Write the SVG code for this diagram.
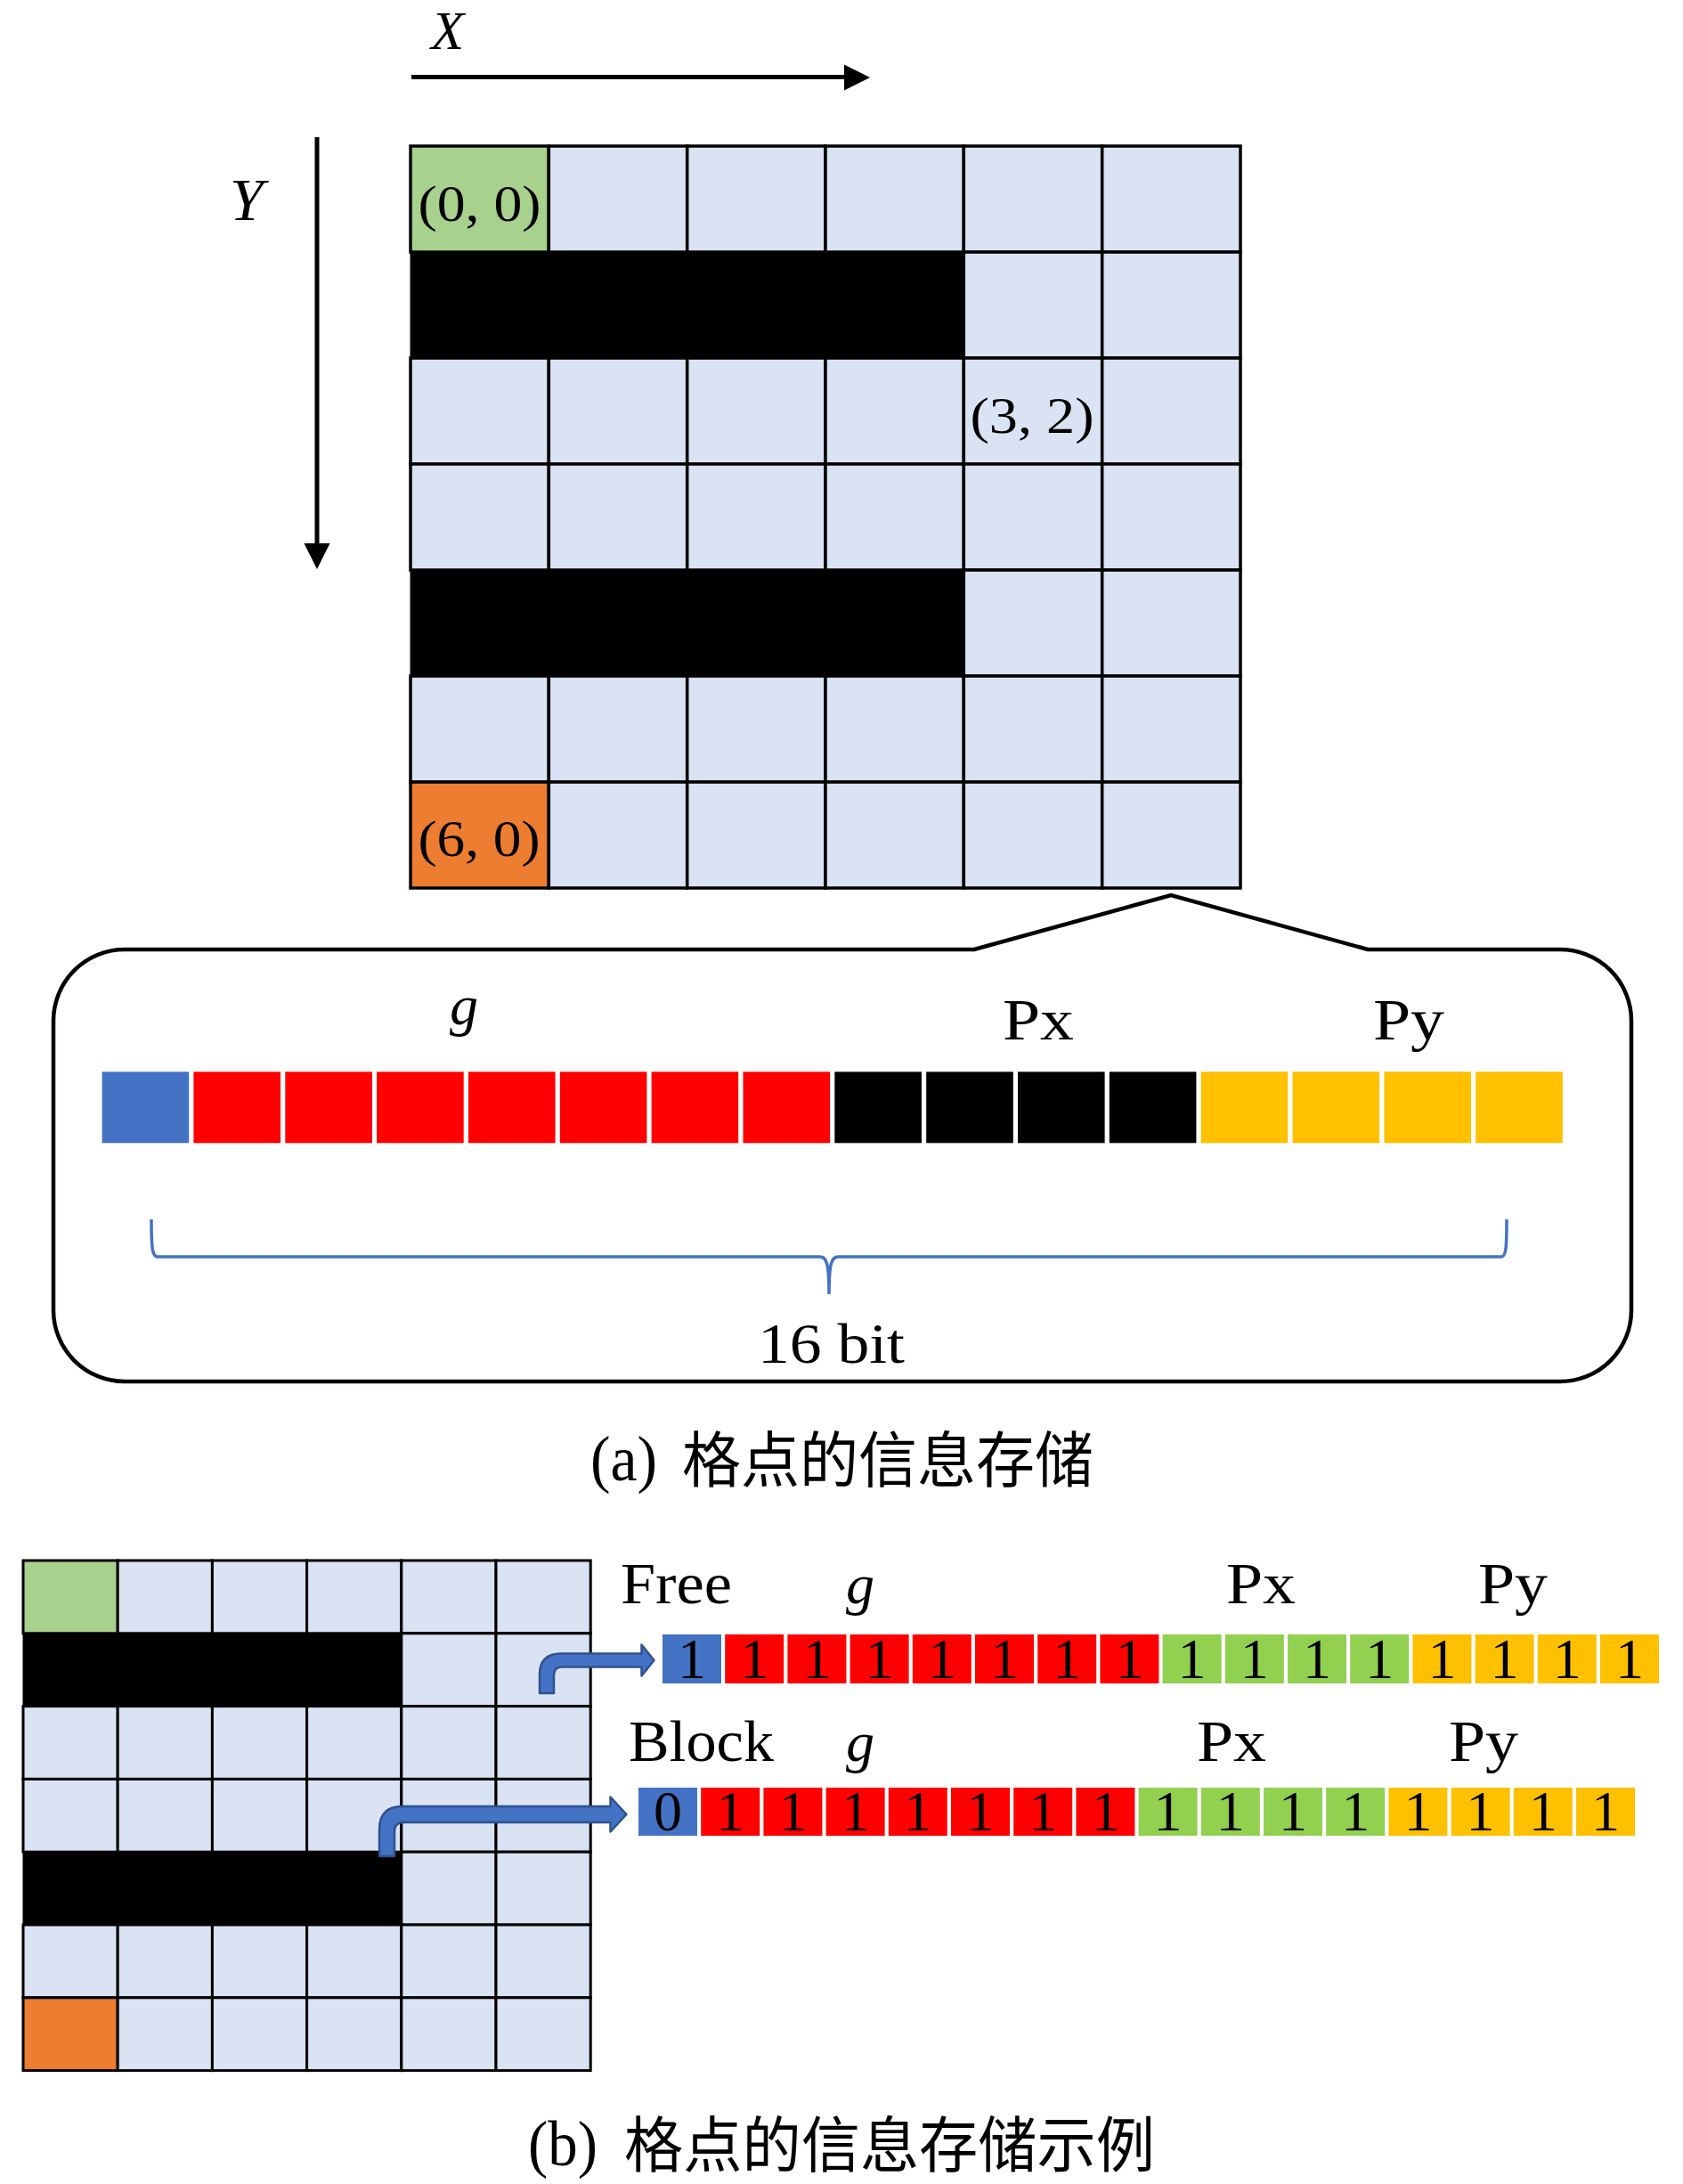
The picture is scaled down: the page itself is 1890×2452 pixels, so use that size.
<svg xmlns="http://www.w3.org/2000/svg" width="1890" height="2452" viewBox="0 0 1890 2452">
<style>
.bg{fill:#ffffff}
.c{fill:#DAE3F3;stroke:#000;stroke-width:3.5}
.cs{fill:#DAE3F3;stroke:#000;stroke-width:3}
.green{fill:#A9D18E}
.orange{fill:#ED7D31}
.blk{fill:#000;stroke:#000}
.t{font-family:"Liberation Serif","DejaVu Serif",serif;fill:#000}
.i{font-style:italic}
.cjk{font-family:"Noto Sans CJK SC","Noto Sans CJK JP",sans-serif;fill:#000}
.bB{fill:#4472C4}
.bR{fill:#FF0000}
.bK{fill:#000}
.bY{fill:#FFC000}
.bG{fill:#92D050}
.arr{fill:#4472C4;stroke:#2F528F;stroke-width:2.5;stroke-linejoin:round}
</style>
<rect class="bg" x="0" y="0" width="1890" height="2452"/>

<g id="axes">
  <line x1="462" y1="86.5" x2="950" y2="86.5" stroke="#000" stroke-width="5"/>
  <polygon points="948,72.5 977,87 948,101.5" fill="#000"/>
  <text class="t i" x="484" y="55" font-size="61">X</text>
  <line x1="356" y1="154" x2="356" y2="612" stroke="#000" stroke-width="5"/>
  <polygon points="341.5,610 370.5,610 356,639" fill="#000"/>
  <text class="t i" x="258" y="247" font-size="68">Y</text>
</g>

<g id="grid-a">
  <rect class="c green" x="461" y="164" width="155.3" height="119"/>
  <rect class="c" x="616.3" y="164" width="155.4" height="119"/>
  <rect class="c" x="771.7" y="164" width="155.3" height="119"/>
  <rect class="c" x="927" y="164" width="155.3" height="119"/>
  <rect class="c" x="1082.3" y="164" width="155.4" height="119"/>
  <rect class="c" x="1237.7" y="164" width="155.3" height="119"/>

  <rect class="blk" x="461" y="283" width="621.3" height="119"/>
  <rect class="c" x="1082.3" y="283" width="155.4" height="119"/>
  <rect class="c" x="1237.7" y="283" width="155.3" height="119"/>

  <rect class="c" x="461" y="402" width="155.3" height="119"/>
  <rect class="c" x="616.3" y="402" width="155.4" height="119"/>
  <rect class="c" x="771.7" y="402" width="155.3" height="119"/>
  <rect class="c" x="927" y="402" width="155.3" height="119"/>
  <rect class="c" x="1082.3" y="402" width="155.4" height="119"/>
  <rect class="c" x="1237.7" y="402" width="155.3" height="119"/>

  <rect class="c" x="461" y="521" width="155.3" height="119"/>
  <rect class="c" x="616.3" y="521" width="155.4" height="119"/>
  <rect class="c" x="771.7" y="521" width="155.3" height="119"/>
  <rect class="c" x="927" y="521" width="155.3" height="119"/>
  <rect class="c" x="1082.3" y="521" width="155.4" height="119"/>
  <rect class="c" x="1237.7" y="521" width="155.3" height="119"/>

  <rect class="blk" x="461" y="640" width="621.3" height="119"/>
  <rect class="c" x="1082.3" y="640" width="155.4" height="119"/>
  <rect class="c" x="1237.7" y="640" width="155.3" height="119"/>

  <rect class="c" x="461" y="759" width="155.3" height="119"/>
  <rect class="c" x="616.3" y="759" width="155.4" height="119"/>
  <rect class="c" x="771.7" y="759" width="155.3" height="119"/>
  <rect class="c" x="927" y="759" width="155.3" height="119"/>
  <rect class="c" x="1082.3" y="759" width="155.4" height="119"/>
  <rect class="c" x="1237.7" y="759" width="155.3" height="119"/>

  <rect class="c orange" x="461" y="878" width="155.3" height="119"/>
  <rect class="c" x="616.3" y="878" width="155.4" height="119"/>
  <rect class="c" x="771.7" y="878" width="155.3" height="119"/>
  <rect class="c" x="927" y="878" width="155.3" height="119"/>
  <rect class="c" x="1082.3" y="878" width="155.4" height="119"/>
  <rect class="c" x="1237.7" y="878" width="155.3" height="119"/>

  <text class="t" x="469.5" y="248" font-size="56" textLength="138" lengthAdjust="spacingAndGlyphs">(0, 0)</text>
  <text class="t" x="1089.5" y="486" font-size="56" textLength="139" lengthAdjust="spacingAndGlyphs">(3, 2)</text>
  <text class="t" x="469.5" y="961" font-size="56" textLength="137" lengthAdjust="spacingAndGlyphs">(6, 0)</text>
</g>

<g id="callout">
  <path d="M140,1066 H1094 L1315,1005 L1536,1066 H1752 A80,80 0 0 1 1832,1146 V1471 A80,80 0 0 1 1752,1551 H140 A80,80 0 0 1 60,1471 V1146 A80,80 0 0 1 140,1066 Z" fill="none" stroke="#000" stroke-width="4.5" stroke-linejoin="miter"/>
  <text class="t i" x="505" y="1150" font-size="64">g</text>
  <text class="t" x="1126" y="1167" font-size="66" textLength="80" lengthAdjust="spacingAndGlyphs">Px</text>
  <text class="t" x="1542" y="1167" font-size="66" textLength="80" lengthAdjust="spacingAndGlyphs">Py</text>
  <g id="bits-a">
    <rect class="bB" x="114.6" y="1203.3" width="97.6" height="80"/>
    <rect class="bR" x="217.4" y="1203.3" width="97.6" height="80"/>
    <rect class="bR" x="320.3" y="1203.3" width="97.6" height="80"/>
    <rect class="bR" x="423.1" y="1203.3" width="97.6" height="80"/>
    <rect class="bR" x="526" y="1203.3" width="97.6" height="80"/>
    <rect class="bR" x="628.8" y="1203.3" width="97.6" height="80"/>
    <rect class="bR" x="731.6" y="1203.3" width="97.6" height="80"/>
    <rect class="bR" x="834.5" y="1203.3" width="97.6" height="80"/>
    <rect class="bK" x="937.3" y="1203.3" width="97.6" height="80"/>
    <rect class="bK" x="1040.2" y="1203.3" width="97.6" height="80"/>
    <rect class="bK" x="1143" y="1203.3" width="97.6" height="80"/>
    <rect class="bK" x="1245.8" y="1203.3" width="97.6" height="80"/>
    <rect class="bY" x="1348.7" y="1203.3" width="97.6" height="80"/>
    <rect class="bY" x="1451.5" y="1203.3" width="97.6" height="80"/>
    <rect class="bY" x="1554.4" y="1203.3" width="97.6" height="80"/>
    <rect class="bY" x="1657.2" y="1203.3" width="97.6" height="80"/>
  </g>
  <path id="brace" d="M170,1369 C170,1402 171,1411 177,1411 H921 C928,1411 931,1418 931,1453 C931,1418 934,1411 941,1411 H1686 C1691,1411 1692,1402 1692,1369" fill="none" stroke="#4472C4" stroke-width="3.5"/>
  <text class="t" x="851" y="1530" font-size="64" textLength="165" lengthAdjust="spacingAndGlyphs">16 bit</text>
</g>

<g id="caption-a">
  <text class="t" x="663" y="1662" font-size="72" textLength="75" lengthAdjust="spacingAndGlyphs">(a)</text>
  <text class="cjk" x="766" y="1664" font-size="68" textLength="462" lengthAdjust="spacingAndGlyphs">格点的信息存储</text>
</g>

<g id="grid-b">
  <rect class="cs green" x="26" y="1752" width="106.2" height="81.8"/>
  <rect class="cs" x="132.2" y="1752" width="106.2" height="81.8"/>
  <rect class="cs" x="238.4" y="1752" width="106.2" height="81.8"/>
  <rect class="cs" x="344.6" y="1752" width="106.2" height="81.8"/>
  <rect class="cs" x="450.8" y="1752" width="106.2" height="81.8"/>
  <rect class="cs" x="557" y="1752" width="106.2" height="81.8"/>

  <rect class="blk" x="26" y="1833.8" width="424.8" height="81.8"/>
  <rect class="cs" x="450.8" y="1833.8" width="106.2" height="81.8"/>
  <rect class="cs" x="557" y="1833.8" width="106.2" height="81.8"/>

  <rect class="cs" x="26" y="1915.6" width="106.2" height="81.8"/>
  <rect class="cs" x="132.2" y="1915.6" width="106.2" height="81.8"/>
  <rect class="cs" x="238.4" y="1915.6" width="106.2" height="81.8"/>
  <rect class="cs" x="344.6" y="1915.6" width="106.2" height="81.8"/>
  <rect class="cs" x="450.8" y="1915.6" width="106.2" height="81.8"/>
  <rect class="cs" x="557" y="1915.6" width="106.2" height="81.8"/>

  <rect class="cs" x="26" y="1997.4" width="106.2" height="81.8"/>
  <rect class="cs" x="132.2" y="1997.4" width="106.2" height="81.8"/>
  <rect class="cs" x="238.4" y="1997.4" width="106.2" height="81.8"/>
  <rect class="cs" x="344.6" y="1997.4" width="106.2" height="81.8"/>
  <rect class="cs" x="450.8" y="1997.4" width="106.2" height="81.8"/>
  <rect class="cs" x="557" y="1997.4" width="106.2" height="81.8"/>

  <rect class="blk" x="26" y="2079.2" width="424.8" height="81.8"/>
  <rect class="cs" x="450.8" y="2079.2" width="106.2" height="81.8"/>
  <rect class="cs" x="557" y="2079.2" width="106.2" height="81.8"/>

  <rect class="cs" x="26" y="2161" width="106.2" height="81.8"/>
  <rect class="cs" x="132.2" y="2161" width="106.2" height="81.8"/>
  <rect class="cs" x="238.4" y="2161" width="106.2" height="81.8"/>
  <rect class="cs" x="344.6" y="2161" width="106.2" height="81.8"/>
  <rect class="cs" x="450.8" y="2161" width="106.2" height="81.8"/>
  <rect class="cs" x="557" y="2161" width="106.2" height="81.8"/>

  <rect class="cs orange" x="26" y="2242.8" width="106.2" height="81.8"/>
  <rect class="cs" x="132.2" y="2242.8" width="106.2" height="81.8"/>
  <rect class="cs" x="238.4" y="2242.8" width="106.2" height="81.8"/>
  <rect class="cs" x="344.6" y="2242.8" width="106.2" height="81.8"/>
  <rect class="cs" x="450.8" y="2242.8" width="106.2" height="81.8"/>
  <rect class="cs" x="557" y="2242.8" width="106.2" height="81.8"/>
</g>

<g id="connectors">
  <path class="arr" d="M606,1901 V1880 Q606,1856.5 630,1856.5 H720.5 V1846.5 L734.5,1864 L720.5,1881.5 V1871.5 H631 Q622,1871.5 622,1881 V1901 Z"/>
  <path class="arr" d="M426,2084 V2054 Q426,2028 452,2028 H685.5 V2017.5 L703.5,2037 L685.5,2056.5 V2046 H453 Q443,2046 443,2056 V2084 Z"/>
</g>

<g id="row-free">
  <text class="t" x="697" y="1800" font-size="65" textLength="125" lengthAdjust="spacingAndGlyphs">Free</text>
  <text class="t i" x="950" y="1800" font-size="64">g</text>
  <text class="t" x="1377" y="1800" font-size="66" textLength="78" lengthAdjust="spacingAndGlyphs">Px</text>
  <text class="t" x="1660" y="1800" font-size="66" textLength="78" lengthAdjust="spacingAndGlyphs">Py</text>
  <rect class="bB" x="744" y="1835" width="66" height="55"/>
  <rect class="bR" x="814.2" y="1835" width="66" height="55"/>
  <rect class="bR" x="884.4" y="1835" width="66" height="55"/>
  <rect class="bR" x="954.6" y="1835" width="66" height="55"/>
  <rect class="bR" x="1024.8" y="1835" width="66" height="55"/>
  <rect class="bR" x="1095" y="1835" width="66" height="55"/>
  <rect class="bR" x="1165.2" y="1835" width="66" height="55"/>
  <rect class="bR" x="1235.4" y="1835" width="66" height="55"/>
  <rect class="bG" x="1305.6" y="1835" width="66" height="55"/>
  <rect class="bG" x="1375.8" y="1835" width="66" height="55"/>
  <rect class="bG" x="1446" y="1835" width="66" height="55"/>
  <rect class="bG" x="1516.2" y="1835" width="66" height="55"/>
  <rect class="bY" x="1586.4" y="1835" width="66" height="55"/>
  <rect class="bY" x="1656.6" y="1835" width="66" height="55"/>
  <rect class="bY" x="1726.8" y="1835" width="66" height="55"/>
  <rect class="bY" x="1797" y="1835" width="66" height="55"/>
  <text class="t" y="1884" font-size="64" text-anchor="middle" x="777 847.2 917.4 987.6 1057.8 1128 1198.2 1268.4 1338.6 1408.8 1479 1549.2 1619.4 1689.6 1759.8 1830">1111111111111111</text>
</g>

<g id="row-block">
  <text class="t" x="706" y="1977" font-size="66" textLength="163" lengthAdjust="spacingAndGlyphs">Block</text>
  <text class="t i" x="950" y="1977" font-size="64">g</text>
  <text class="t" x="1344" y="1977" font-size="66" textLength="78" lengthAdjust="spacingAndGlyphs">Px</text>
  <text class="t" x="1627" y="1977" font-size="66" textLength="78" lengthAdjust="spacingAndGlyphs">Py</text>
  <rect class="bB" x="717" y="2007" width="66" height="54"/>
  <rect class="bR" x="787.2" y="2007" width="66" height="54"/>
  <rect class="bR" x="857.4" y="2007" width="66" height="54"/>
  <rect class="bR" x="927.6" y="2007" width="66" height="54"/>
  <rect class="bR" x="997.8" y="2007" width="66" height="54"/>
  <rect class="bR" x="1068" y="2007" width="66" height="54"/>
  <rect class="bR" x="1138.2" y="2007" width="66" height="54"/>
  <rect class="bR" x="1208.4" y="2007" width="66" height="54"/>
  <rect class="bG" x="1278.6" y="2007" width="66" height="54"/>
  <rect class="bG" x="1348.8" y="2007" width="66" height="54"/>
  <rect class="bG" x="1419" y="2007" width="66" height="54"/>
  <rect class="bG" x="1489.2" y="2007" width="66" height="54"/>
  <rect class="bY" x="1559.4" y="2007" width="66" height="54"/>
  <rect class="bY" x="1629.6" y="2007" width="66" height="54"/>
  <rect class="bY" x="1699.8" y="2007" width="66" height="54"/>
  <rect class="bY" x="1770" y="2007" width="66" height="54"/>
  <text class="t" y="2055" font-size="64" text-anchor="middle" x="750 820.2 890.4 960.6 1030.8 1101 1171.2 1241.4 1311.6 1381.8 1452 1522.2 1592.4 1662.6 1732.8 1803">0111111111111111</text>
</g>

<g id="caption-b">
  <text class="t" x="593" y="2431" font-size="72" textLength="78" lengthAdjust="spacingAndGlyphs">(b)</text>
  <text class="cjk" x="701" y="2433" font-size="68" textLength="596" lengthAdjust="spacingAndGlyphs">格点的信息存储示例</text>
</g>
</svg>
